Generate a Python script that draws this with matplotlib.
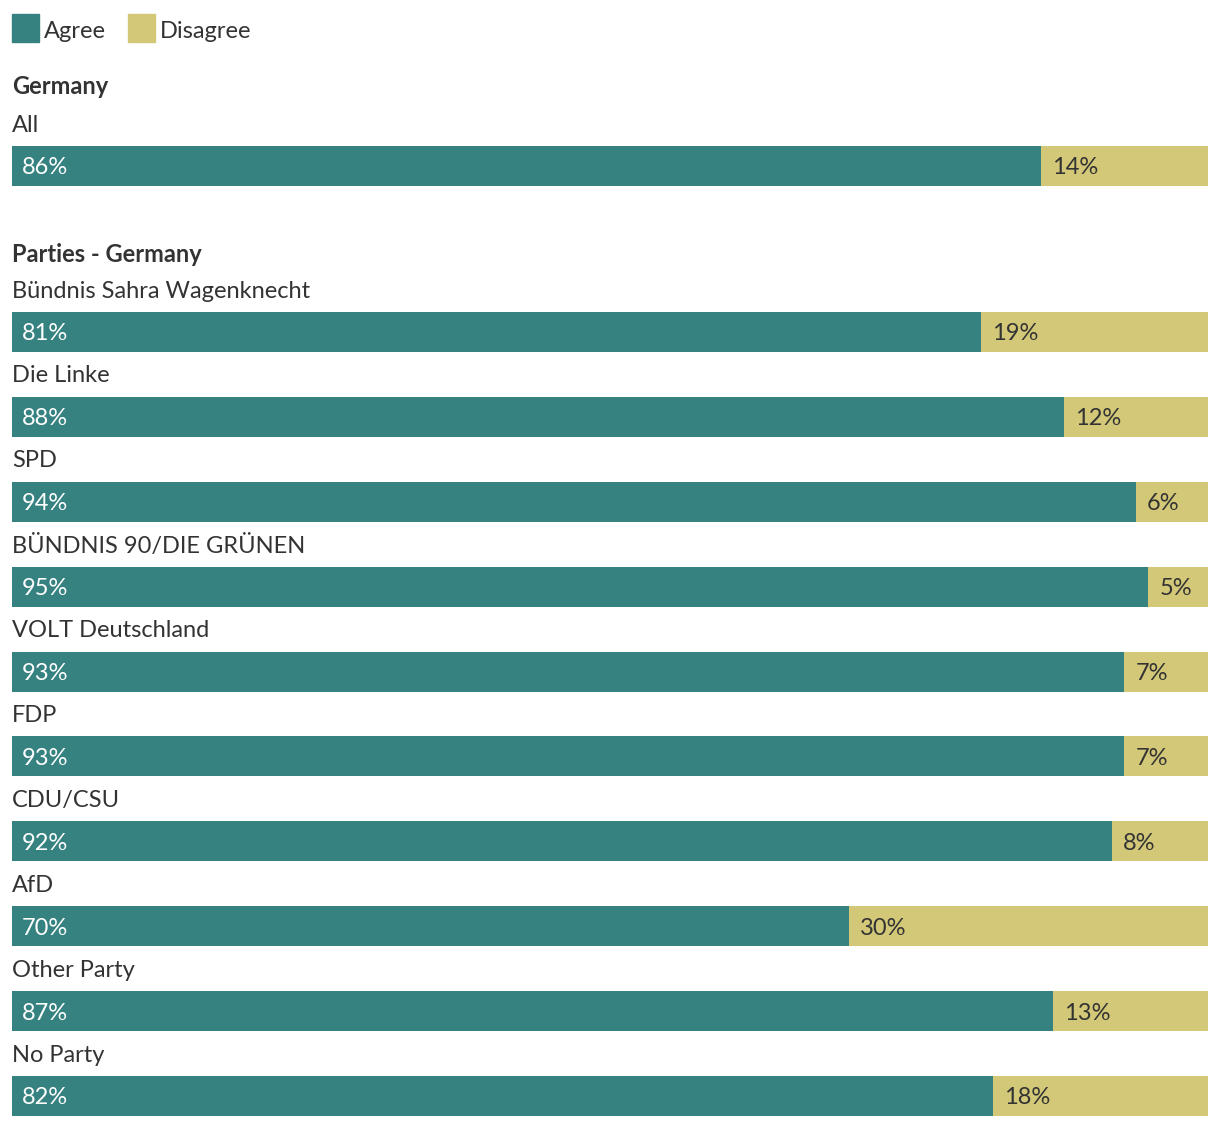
import matplotlib
matplotlib.use("Agg")
import matplotlib.pyplot as plt
from matplotlib.patches import Rectangle

plt.rcParams['font.family'] = ['Lato', 'DejaVu Sans']

groups = ["Germany", "Parties - Germany"]
all_labels = ["All"]
all_agree = [86]
all_disagree = [14]
party_labels = ["Bündnis Sahra Wagenknecht", "Die Linke", "SPD", "BÜNDNIS 90/DIE GRÜNEN",
                "VOLT Deutschland", "FDP", "CDU/CSU", "AfD", "Other Party", "No Party"]
party_agree = [81, 88, 94, 95, 93, 93, 92, 70, 87, 82]
party_disagree = [19, 12, 6, 5, 7, 7, 8, 30, 13, 18]

AGREE = "#358280"
DISAGREE = "#D2C878"
TXT = "#333333"

W, H = 1220, 1126
fig = plt.figure(figsize=(W / 100, H / 100), dpi=100)
left, right = 12, 1208
ax = fig.add_axes([left / W, 0, (right - left) / W, 1])
ax.set_xlim(0, 100)
ax.set_ylim(H, 0)
ax.axis("off")

px = 100 / (right - left)  # data units per pixel horizontally
fs = 17
bh = 40
dy = 2  # text vertical nudge

def draw_bar(yc, label, a, d):
    ax.barh(yc, a, height=bh, left=0, color=AGREE)
    ax.barh(yc, d, height=bh, left=a, color=DISAGREE)
    ax.text(10 * px, yc + dy, f"{a}%", color="white", fontsize=fs, va="center", ha="left")
    ax.text(a + 11 * px, yc + dy, f"{d}%", color=TXT, fontsize=fs, va="center", ha="left")
    ax.text(0, yc - 43 + dy, label, color=TXT, fontsize=fs, va="center", ha="left")

# legend
for x0, name, col in [(0, "Agree", AGREE), (116, "Disagree", DISAGREE)]:
    ax.add_patch(Rectangle((x0 * px, 14), 27 * px, 28, color=col, clip_on=False))
    ax.text((x0 + 32) * px, 29 + dy, name, color=TXT, fontsize=fs, va="center", ha="left")

ax.text(0, 84 + dy, groups[0], color=TXT, fontsize=fs, fontweight="bold", va="center", ha="left")
for i, (lab, a, d) in enumerate(zip(all_labels, all_agree, all_disagree)):
    draw_bar(166 + i * 85, lab, a, d)

ax.text(0, 252 + dy, groups[1], color=TXT, fontsize=fs, fontweight="bold", va="center", ha="left")
step = (1096 - 332) / 9
for i, (lab, a, d) in enumerate(zip(party_labels, party_agree, party_disagree)):
    draw_bar(332 + i * step, lab, a, d)

fig.savefig("out.png", dpi=100, facecolor="white")
